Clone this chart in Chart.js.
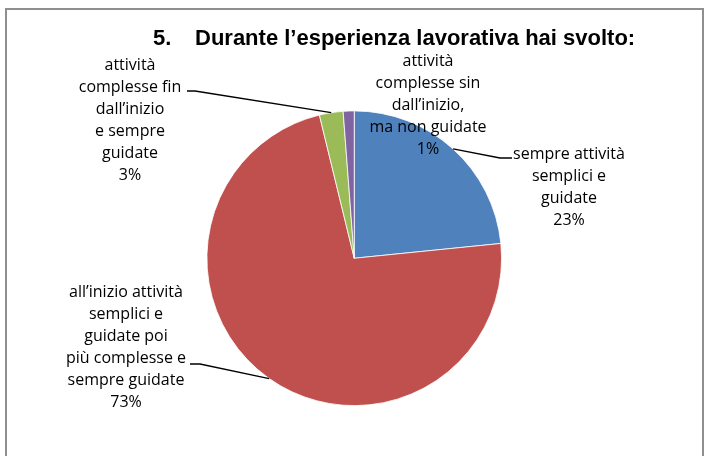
<!DOCTYPE html>
<html>
<head>
<meta charset="utf-8">
<script src="https://cdn.jsdelivr.net/npm/chart.js@4"></script>
<style>
  html, body { margin: 0; padding: 0; background: #fff; }
  #c { display: block; }
</style>
</head>
<body>
<canvas id="c" width="704" height="456"></canvas>
<script>
// data (percent of answers)
const categories = [
  ['sempre attività', 'semplici e', 'guidate'],
  ['all’inizio attività', 'semplici e', 'guidate poi', 'più complesse e', 'sempre guidate'],
  ['attività', 'complesse fin', 'dall’inizio', 'e sempre', 'guidate'],
  ['attività', 'complesse sin', 'dall’inizio,', 'ma non guidate']
];
const values = [23.4, 72.8, 2.6, 1.2];
const colors = ['#4F81BD', '#C0504D', '#9BBB59', '#8064A2'];
const titleNum = '5.';
const titleText = 'Durante l’esperienza lavorativa hai svolto:';

// where each label block sits, and the elbow of its leader line
const labelPos = [
  { x: 569, y: 154, lineFrom: [512, 158], elbow: [500, 158] },
  { x: 126, y: 292, lineFrom: [190, 364], elbow: [200, 364] },
  { x: 130, y: 65, lineFrom: [187, 91], elbow: [195, 91] },
  { x: 428, y: 61, lineFrom: null, elbow: null }
];

const framePlugin = {
  id: 'frame',
  beforeDraw(chart) {
    const ctx = chart.ctx;
    ctx.save();
    ctx.strokeStyle = '#8f8f8f';
    ctx.lineWidth = 2;
    ctx.strokeRect(6, 9, 697, 470);
    ctx.restore();
  }
};

const textPlugin = {
  id: 'texts',
  afterDraw(chart) {
    const ctx = chart.ctx;
    ctx.save();
    // title
    ctx.fillStyle = '#000';
    ctx.font = 'bold 22px "Liberation Sans", Arial, sans-serif';
    ctx.textBaseline = 'alphabetic';
    ctx.textAlign = 'left';
    ctx.fillText(titleNum, 153, 45);
    ctx.fillText(titleText, 195, 45);

    // slice labels with leader lines
    const meta = chart.getDatasetMeta(0);
    const total = values.reduce((a, b) => a + b, 0);
    ctx.font = '16px "Open Sans", sans-serif';
    ctx.textAlign = 'center';
    ctx.textBaseline = 'middle';
    meta.data.forEach((arc, i) => {
      const p = labelPos[i];
      const lines = categories[i].concat([Math.round(values[i] / total * 100) + '%']);
      lines.forEach((t, k) => ctx.fillText(t, p.x, p.y + k * 22));
      if (p.lineFrom) {
        const mid = (arc.startAngle + arc.endAngle) / 2;
        const ex = arc.x + Math.cos(mid) * arc.outerRadius;
        const ey = arc.y + Math.sin(mid) * arc.outerRadius;
        ctx.beginPath();
        ctx.strokeStyle = '#000';
        ctx.lineWidth = 1.3;
        ctx.moveTo(p.lineFrom[0], p.lineFrom[1]);
        ctx.lineTo(p.elbow[0], p.elbow[1]);
        ctx.lineTo(ex, ey);
        ctx.stroke();
      }
    });
    ctx.restore();
  }
};

new Chart(document.getElementById('c').getContext('2d'), {
  type: 'pie',
  data: {
    labels: categories.map(l => l.join(' ')),
    datasets: [{
      data: values,
      backgroundColor: colors,
      borderColor: '#ffffff',
      borderWidth: 0.8
    }]
  },
  options: {
    responsive: false,
    animation: false,
    layout: { padding: { left: 206.5, right: 202, top: 110, bottom: 49.5 } },
    plugins: {
      legend: { display: false },
      tooltip: { enabled: false },
      title: { display: false }
    }
  },
  plugins: [framePlugin, textPlugin]
});
</script>
</body>
</html>
